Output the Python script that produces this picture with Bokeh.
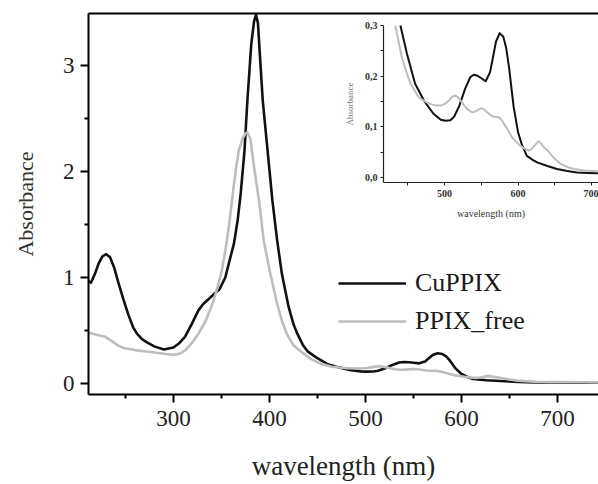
import numpy as np
from bokeh.plotting import figure
from bokeh.models import (Range1d, LinearAxis, FixedTicker, CustomJSTickFormatter,
                          Legend, LegendItem)
from bokeh.embed import file_html
from bokeh.resources import INLINE

# ---------------- data ----------------
wl_cuppix = [211, 214, 218, 222, 226, 230, 234, 238, 243, 248, 253, 258, 262, 267, 272,
             280, 290, 300, 306, 312, 319, 326, 331, 337, 343, 348, 354, 359, 363, 367,
             370, 374, 377, 381, 384, 386, 388, 390, 393, 398, 403, 408, 413, 420, 425,
             429, 435, 440, 449, 460, 472, 485, 495, 501, 508, 513, 520, 528, 535, 540,
             545, 550, 556, 562, 566, 570, 575, 580, 584, 588, 594, 600, 605, 612, 620,
             626, 640, 653, 667, 680, 695, 708, 725, 742]
abs_cuppix = [0.97, 0.95, 1.03, 1.13, 1.20, 1.22, 1.19, 1.10, 0.94, 0.79, 0.65, 0.53, 0.47,
              0.42, 0.39, 0.35, 0.32, 0.34, 0.38, 0.44, 0.56, 0.69, 0.75, 0.80, 0.85, 0.89,
              1.00, 1.18, 1.32, 1.55, 1.79, 2.20, 2.67, 3.20, 3.42, 3.48, 3.40, 3.10, 2.67,
              2.20, 1.73, 1.35, 1.03, 0.72, 0.56, 0.47, 0.36, 0.30, 0.244, 0.185, 0.152,
              0.126, 0.114, 0.112, 0.113, 0.120, 0.141, 0.175, 0.198, 0.203, 0.201, 0.196,
              0.190, 0.208, 0.238, 0.268, 0.285, 0.278, 0.255, 0.215, 0.140, 0.090, 0.066,
              0.043, 0.035, 0.030, 0.023, 0.017, 0.013, 0.010, 0.0092, 0.0085, 0.0075, 0.007]

wl_free = [211, 220, 229, 236, 242, 248, 260, 278, 290, 300, 306, 312, 319, 326, 333, 338,
           342, 345, 350, 354, 358, 361, 365, 368, 372, 375, 377, 380, 384, 389, 394, 401,
           408, 413, 418, 425, 433, 442, 450, 454, 465, 475, 481, 489, 495, 501, 506, 510,
           514, 518, 522, 527, 531, 536, 540, 545, 550, 554, 558, 563, 567, 574, 578, 581,
           587, 592, 598, 603, 609, 615, 619, 623, 628, 632, 635, 640, 644, 650, 658, 667,
           676, 690, 708, 725, 742]
abs_free = [0.48, 0.46, 0.44, 0.40, 0.36, 0.335, 0.315, 0.295, 0.28, 0.27, 0.28, 0.31, 0.38,
            0.47, 0.58, 0.69, 0.79, 0.88, 1.05, 1.25, 1.50, 1.73, 2.02, 2.20, 2.31, 2.36,
            2.37, 2.31, 2.04, 1.73, 1.35, 1.03, 0.75, 0.59, 0.47, 0.36, 0.30, 0.237, 0.20,
            0.185, 0.158, 0.149, 0.145, 0.142, 0.142, 0.146, 0.152, 0.159, 0.162, 0.159,
            0.152, 0.142, 0.135, 0.130, 0.129, 0.133, 0.137, 0.134, 0.129, 0.123, 0.120,
            0.119, 0.113, 0.106, 0.092, 0.079, 0.070, 0.063, 0.057, 0.053, 0.057, 0.064,
            0.072, 0.066, 0.060, 0.054, 0.047, 0.037, 0.027, 0.021, 0.017, 0.014, 0.0125,
            0.011, 0.010]

series_labels = ["CuPPIX", "PPIX_free"]

x_ticks = [300, 400, 500, 600, 700]
x_minor = [250, 350, 450, 550, 650]
y_ticks = [0, 1, 2, 3]
y_minor = [0.5, 1.5, 2.5]

inset_x_ticks = [500, 600, 700]
inset_x_minor = [450, 550, 650]
inset_y_ticks = [0.0, 0.1, 0.2, 0.3]
inset_y_minor = [0.05, 0.15, 0.25]
inset_x_lim = (417, 709.5)
inset_y_lim = (-0.01, 0.3)

# ---------------- styling ----------------
FONT = "Liberation Serif"
BLACK = "#111111"
GRAY = "#bdbdbd"

p = figure(width=598, height=484, output_backend="svg", toolbar_location=None,
           x_range=Range1d(211.5, 742.7), y_range=Range1d(-0.104, 3.491),
           min_border_left=88, min_border_right=0, min_border_top=13,
           min_border_bottom=90, x_axis_location=None, y_axis_location=None)
p.grid.visible = False
p.outline_line_color = None
p.extra_x_ranges = {"ix": Range1d(15.65, 709.5)}
p.extra_y_ranges = {"iy": Range1d(-0.4278, 0.3237)}


def style_main(ax, ticks, minor):
    ax.ticker = FixedTicker(ticks=ticks, minor_ticks=minor)
    ax.axis_line_width = 2
    ax.axis_line_color = "black"
    ax.major_tick_line_width = 2
    ax.minor_tick_line_width = 2
    ax.major_tick_out = 8
    ax.major_tick_in = 0
    ax.minor_tick_out = 4
    ax.minor_tick_in = 0
    ax.major_label_text_font = FONT
    ax.major_label_text_font_size = "23px"
    ax.major_label_text_color = "#222222"
    ax.axis_label_text_font = FONT
    ax.axis_label_text_font_style = "normal"
    ax.axis_label_text_color = "#222222"


xax = LinearAxis(axis_label="wavelength (nm)")
style_main(xax, x_ticks, x_minor)
xax.axis_label_text_font_size = "27px"
xax.major_label_standoff = 8
xax.axis_label_standoff = 22
p.add_layout(xax, "below")

yax = LinearAxis(axis_label="Absorbance")
style_main(yax, y_ticks, y_minor)
yax.axis_label_text_font_size = "22px"
yax.axis_label_text_color = "#333333"
yax.major_label_standoff = 6
yax.axis_label_standoff = 22
p.add_layout(yax, "left")

top = LinearAxis(ticker=FixedTicker(ticks=[]), major_label_text_font_size="0px",
                 major_tick_line_color=None, minor_tick_line_color=None,
                 axis_line_width=2, axis_line_color="black",
                 major_tick_out=0, minor_tick_out=0, major_label_standoff=0)
p.add_layout(top, "above")

# ---------------- main curves ----------------
r_cu = p.line(wl_cuppix, abs_cuppix, line_color=BLACK, line_width=2.6, line_join="round")
r_fr = p.line(wl_free, abs_free, line_color=GRAY, line_width=2.6, line_join="round")

legend = Legend(items=[LegendItem(label=series_labels[0], renderers=[r_cu]),
                       LegendItem(label=series_labels[1], renderers=[r_fr])],
                location=(250, 58))
legend.label_text_font = FONT
legend.label_text_font_size = "26px"
legend.label_text_color = "#1a1a1a"
legend.glyph_width = 68
legend.glyph_height = 30
legend.label_height = 30
legend.spacing = 8
legend.padding = 0
legend.margin = 0
legend.label_standoff = 9
legend.border_line_color = None
legend.background_fill_alpha = 0
p.add_layout(legend)

# ---------------- inset (same data, zoomed) ----------------
def inset_part(wl, ab):
    wl = np.asarray(wl, float)
    ab = np.asarray(ab, float)
    m = (wl >= inset_x_lim[0]) & (ab <= inset_y_lim[1] + 1e-9)
    return wl[m], ab[m]


xi, yi = inset_part(wl_cuppix, abs_cuppix)
p.line(xi, yi, x_range_name="ix", y_range_name="iy", line_color=BLACK, line_width=2,
       line_join="round")
xi, yi = inset_part(wl_free, abs_free)
p.line(xi, yi, x_range_name="ix", y_range_name="iy", line_color=GRAY, line_width=2,
       line_join="round")


def style_inset(ax, ticks, minor):
    ax.ticker = FixedTicker(ticks=ticks, minor_ticks=minor)
    ax.axis_line_width = 1.2
    ax.axis_line_color = "#222222"
    ax.major_tick_line_width = 1
    ax.minor_tick_line_width = 1
    ax.major_tick_line_color = "#222222"
    ax.minor_tick_line_color = "#222222"
    ax.major_tick_out = 3
    ax.major_tick_in = 0
    ax.minor_tick_out = 3
    ax.minor_tick_in = 0
    ax.major_label_text_font = FONT
    ax.major_label_text_font_size = "10px"
    ax.major_label_text_font_style = "bold"
    ax.major_label_text_color = "#333333"
    ax.axis_label_text_font = FONT
    ax.axis_label_text_font_style = "normal"


ixax = LinearAxis(x_range_name="ix", y_range_name="iy", fixed_location=inset_y_lim[0],
                  bounds=inset_x_lim, axis_label="wavelength (nm)")
style_inset(ixax, inset_x_ticks, inset_x_minor)
ixax.major_label_standoff = 4
ixax.axis_label_standoff = 8
ixax.axis_label_text_font_size = "10px"
ixax.axis_label_text_color = "#333333"
p.add_layout(ixax, "below")

iyax = LinearAxis(x_range_name="ix", y_range_name="iy", fixed_location=inset_x_lim[0],
                  bounds=inset_y_lim, axis_label="Absorbance")
style_inset(iyax, inset_y_ticks, inset_y_minor)
iyax.formatter = CustomJSTickFormatter(code="return tick.toFixed(1).replace('.', ',');")
iyax.major_label_standoff = 3
iyax.axis_label_standoff = 7
iyax.axis_label_text_font_size = "9px"
iyax.axis_label_text_color = "#777777"
p.add_layout(iyax, "left")

open("out.html", "w").write(file_html(p, INLINE))
